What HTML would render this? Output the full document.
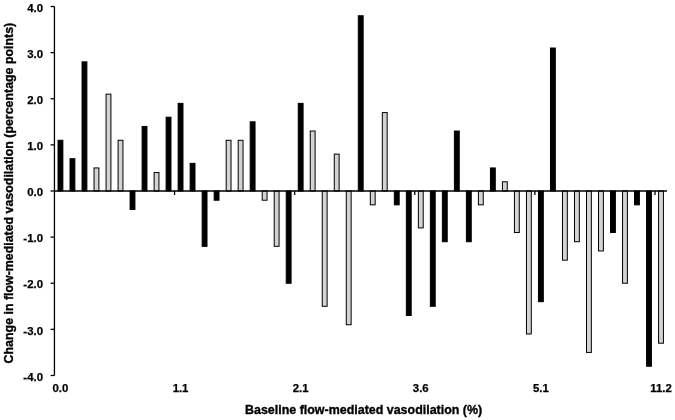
<!DOCTYPE html>
<html><head><meta charset="utf-8"><style>
html,body{margin:0;padding:0;background:#fff;width:675px;height:420px;overflow:hidden}
svg{display:block}
svg{will-change:transform}
.t{font-family:"Liberation Sans",sans-serif;font-weight:bold;font-size:11.4px;fill:#000;stroke:#000;stroke-width:0.25px}
.ti{font-family:"Liberation Sans",sans-serif;font-weight:bold;font-size:13px;fill:#000;stroke:#000;stroke-width:0.35px}
</style></head><body>
<svg width="675" height="420" viewBox="0 0 675 420">
<rect width="675" height="420" fill="#fff"/>
<rect x="58.02" y="140.27" width="4.85" height="50.73" fill="#000" stroke="#000" stroke-width="1.0"/>
<rect x="70.03" y="158.72" width="4.85" height="32.28" fill="#000" stroke="#000" stroke-width="1.0"/>
<rect x="82.04" y="61.86" width="4.85" height="129.14" fill="#000" stroke="#000" stroke-width="1.0"/>
<rect x="94.05" y="167.94" width="4.85" height="23.06" fill="#d3d3d3" stroke="#000" stroke-width="1.0"/>
<rect x="106.06" y="94.15" width="4.85" height="96.85" fill="#d3d3d3" stroke="#000" stroke-width="1.0"/>
<rect x="118.08" y="140.27" width="4.85" height="50.73" fill="#d3d3d3" stroke="#000" stroke-width="1.0"/>
<rect x="130.09" y="191.00" width="4.85" height="18.45" fill="#000" stroke="#000" stroke-width="1.0"/>
<rect x="142.10" y="126.43" width="4.85" height="64.57" fill="#000" stroke="#000" stroke-width="1.0"/>
<rect x="154.11" y="172.55" width="4.85" height="18.45" fill="#d3d3d3" stroke="#000" stroke-width="1.0"/>
<rect x="166.12" y="117.21" width="4.85" height="73.79" fill="#000" stroke="#000" stroke-width="1.0"/>
<rect x="178.13" y="103.37" width="4.85" height="87.63" fill="#000" stroke="#000" stroke-width="1.0"/>
<rect x="190.14" y="163.33" width="4.85" height="27.67" fill="#000" stroke="#000" stroke-width="1.0"/>
<rect x="202.15" y="191.00" width="4.85" height="55.34" fill="#000" stroke="#000" stroke-width="1.0"/>
<rect x="214.16" y="191.00" width="4.85" height="9.22" fill="#000" stroke="#000" stroke-width="1.0"/>
<rect x="226.17" y="140.27" width="4.85" height="50.73" fill="#d3d3d3" stroke="#000" stroke-width="1.0"/>
<rect x="238.19" y="140.27" width="4.85" height="50.73" fill="#d3d3d3" stroke="#000" stroke-width="1.0"/>
<rect x="250.20" y="121.82" width="4.85" height="69.18" fill="#000" stroke="#000" stroke-width="1.0"/>
<rect x="262.21" y="191.00" width="4.85" height="9.22" fill="#d3d3d3" stroke="#000" stroke-width="1.0"/>
<rect x="274.22" y="191.00" width="4.85" height="55.34" fill="#d3d3d3" stroke="#000" stroke-width="1.0"/>
<rect x="286.23" y="191.00" width="4.85" height="92.24" fill="#000" stroke="#000" stroke-width="1.0"/>
<rect x="298.24" y="103.37" width="4.85" height="87.63" fill="#000" stroke="#000" stroke-width="1.0"/>
<rect x="310.25" y="131.04" width="4.85" height="59.96" fill="#d3d3d3" stroke="#000" stroke-width="1.0"/>
<rect x="322.26" y="191.00" width="4.85" height="115.30" fill="#d3d3d3" stroke="#000" stroke-width="1.0"/>
<rect x="334.27" y="154.10" width="4.85" height="36.90" fill="#d3d3d3" stroke="#000" stroke-width="1.0"/>
<rect x="346.28" y="191.00" width="4.85" height="133.75" fill="#d3d3d3" stroke="#000" stroke-width="1.0"/>
<rect x="358.30" y="15.74" width="4.85" height="175.26" fill="#000" stroke="#000" stroke-width="1.0"/>
<rect x="370.31" y="191.00" width="4.85" height="13.84" fill="#d3d3d3" stroke="#000" stroke-width="1.0"/>
<rect x="382.32" y="112.60" width="4.85" height="78.40" fill="#d3d3d3" stroke="#000" stroke-width="1.0"/>
<rect x="394.33" y="191.00" width="4.85" height="13.84" fill="#000" stroke="#000" stroke-width="1.0"/>
<rect x="406.34" y="191.00" width="4.85" height="124.52" fill="#000" stroke="#000" stroke-width="1.0"/>
<rect x="418.35" y="191.00" width="4.85" height="36.90" fill="#d3d3d3" stroke="#000" stroke-width="1.0"/>
<rect x="430.36" y="191.00" width="4.85" height="115.30" fill="#000" stroke="#000" stroke-width="1.0"/>
<rect x="442.37" y="191.00" width="4.85" height="50.73" fill="#000" stroke="#000" stroke-width="1.0"/>
<rect x="454.38" y="131.04" width="4.85" height="59.96" fill="#000" stroke="#000" stroke-width="1.0"/>
<rect x="466.39" y="191.00" width="4.85" height="50.73" fill="#000" stroke="#000" stroke-width="1.0"/>
<rect x="478.41" y="191.00" width="4.85" height="13.84" fill="#d3d3d3" stroke="#000" stroke-width="1.0"/>
<rect x="490.42" y="167.94" width="4.85" height="23.06" fill="#000" stroke="#000" stroke-width="1.0"/>
<rect x="502.43" y="181.78" width="4.85" height="9.22" fill="#d3d3d3" stroke="#000" stroke-width="1.0"/>
<rect x="514.44" y="191.00" width="4.85" height="41.51" fill="#d3d3d3" stroke="#000" stroke-width="1.0"/>
<rect x="526.45" y="191.00" width="4.85" height="142.97" fill="#d3d3d3" stroke="#000" stroke-width="1.0"/>
<rect x="538.46" y="191.00" width="4.85" height="110.69" fill="#000" stroke="#000" stroke-width="1.0"/>
<rect x="550.47" y="48.03" width="4.85" height="142.97" fill="#000" stroke="#000" stroke-width="1.0"/>
<rect x="562.48" y="191.00" width="4.85" height="69.18" fill="#d3d3d3" stroke="#000" stroke-width="1.0"/>
<rect x="574.49" y="191.00" width="4.85" height="50.73" fill="#d3d3d3" stroke="#000" stroke-width="1.0"/>
<rect x="586.50" y="191.00" width="4.85" height="161.42" fill="#d3d3d3" stroke="#000" stroke-width="1.0"/>
<rect x="598.52" y="191.00" width="4.85" height="59.96" fill="#d3d3d3" stroke="#000" stroke-width="1.0"/>
<rect x="610.53" y="191.00" width="4.85" height="41.51" fill="#000" stroke="#000" stroke-width="1.0"/>
<rect x="622.54" y="191.00" width="4.85" height="92.24" fill="#d3d3d3" stroke="#000" stroke-width="1.0"/>
<rect x="634.55" y="191.00" width="4.85" height="13.84" fill="#000" stroke="#000" stroke-width="1.0"/>
<rect x="646.56" y="191.00" width="4.85" height="175.26" fill="#000" stroke="#000" stroke-width="1.0"/>
<rect x="658.57" y="191.00" width="4.85" height="152.20" fill="#d3d3d3" stroke="#000" stroke-width="1.0"/>
<line x1="54.44" y1="6.52" x2="54.44" y2="375.48" stroke="#000" stroke-width="1.3"/>
<line x1="50.6" y1="375.48" x2="54.44" y2="375.48" stroke="#000" stroke-width="1.3"/>
<line x1="50.6" y1="329.36" x2="54.44" y2="329.36" stroke="#000" stroke-width="1.3"/>
<line x1="50.6" y1="283.24" x2="54.44" y2="283.24" stroke="#000" stroke-width="1.3"/>
<line x1="50.6" y1="237.12" x2="54.44" y2="237.12" stroke="#000" stroke-width="1.3"/>
<line x1="50.6" y1="191.00" x2="54.44" y2="191.00" stroke="#000" stroke-width="1.3"/>
<line x1="50.6" y1="144.88" x2="54.44" y2="144.88" stroke="#000" stroke-width="1.3"/>
<line x1="50.6" y1="98.76" x2="54.44" y2="98.76" stroke="#000" stroke-width="1.3"/>
<line x1="50.6" y1="52.64" x2="54.44" y2="52.64" stroke="#000" stroke-width="1.3"/>
<line x1="50.6" y1="6.52" x2="54.44" y2="6.52" stroke="#000" stroke-width="1.3"/>
<line x1="54.44" y1="191.0" x2="666.9" y2="191.0" stroke="#000" stroke-width="1.3"/>
<line x1="174.55" y1="191.0" x2="174.55" y2="195.0" stroke="#000" stroke-width="1.3"/>
<line x1="294.66" y1="191.0" x2="294.66" y2="195.0" stroke="#000" stroke-width="1.3"/>
<line x1="414.77" y1="191.0" x2="414.77" y2="195.0" stroke="#000" stroke-width="1.3"/>
<line x1="534.88" y1="191.0" x2="534.88" y2="195.0" stroke="#000" stroke-width="1.3"/>
<line x1="654.99" y1="191.0" x2="654.99" y2="195.0" stroke="#000" stroke-width="1.3"/>
<text x="43" y="380.68" text-anchor="end" class="t">-4.0</text>
<text x="43" y="334.56" text-anchor="end" class="t">-3.0</text>
<text x="43" y="288.44" text-anchor="end" class="t">-2.0</text>
<text x="43" y="242.32" text-anchor="end" class="t">-1.0</text>
<text x="43" y="196.20" text-anchor="end" class="t">0.0</text>
<text x="43" y="150.08" text-anchor="end" class="t">1.0</text>
<text x="43" y="103.96" text-anchor="end" class="t">2.0</text>
<text x="43" y="57.84" text-anchor="end" class="t">3.0</text>
<text x="43" y="11.72" text-anchor="end" class="t">4.0</text>
<text x="60.45" y="391.8" text-anchor="middle" class="t">0.0</text>
<text x="180.56" y="391.8" text-anchor="middle" class="t">1.1</text>
<text x="300.67" y="391.8" text-anchor="middle" class="t">2.1</text>
<text x="420.78" y="391.8" text-anchor="middle" class="t">3.6</text>
<text x="540.89" y="391.8" text-anchor="middle" class="t">5.1</text>
<text x="661.00" y="391.8" text-anchor="middle" class="t">11.2</text>
<text x="363.6" y="413.8" text-anchor="middle" class="ti" textLength="237.2" lengthAdjust="spacingAndGlyphs">Baseline flow-mediated vasodilation (%)</text>
<text transform="translate(12.7,193.1) rotate(-90)" x="0" y="0" text-anchor="middle" class="ti" textLength="340.6" lengthAdjust="spacingAndGlyphs">Change in flow-mediated vasodilation (percentage points)</text>
</svg>
</body></html>
